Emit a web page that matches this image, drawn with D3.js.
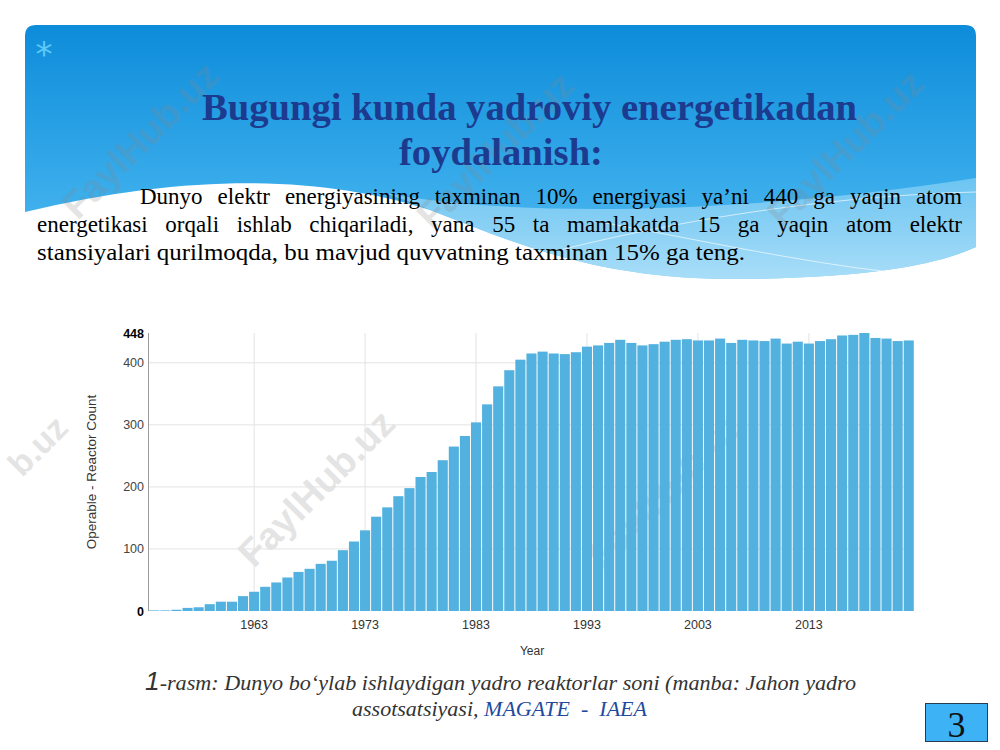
<!DOCTYPE html>
<html><head><meta charset="utf-8">
<script src="https://cdn.jsdelivr.net/npm/d3@7"></script>
<style>body{margin:0;background:#fff}svg{display:block}</style>
</head><body>
<svg id="c" width="1000" height="750"></svg>
<script>
// ---- data ----
const years = [1954,1955,1956,1957,1958,1959,1960,1961,1962,1963,1964,1965,1966,1967,1968,1969,1970,1971,1972,1973,1974,1975,1976,1977,1978,1979,1980,1981,1982,1983,1984,1985,1986,1987,1988,1989,1990,1991,1992,1993,1994,1995,1996,1997,1998,1999,2000,2001,2002,2003,2004,2005,2006,2007,2008,2009,2010,2011,2012,2013,2014,2015,2016,2017,2018,2019,2020,2021,2022];
const reactorCount = [1,1,2,5,6,11,15,15,24,31,39,46,54,63,68,76,81,98,112,130,152,167,185,198,216,224,243,265,282,304,333,362,388,405,415,418,415,414,417,426,428,432,437,432,428,430,434,437,438,436,436,439,432,437,436,435,439,431,434,431,435,438,444,445,448,440,439,435,436];
const xTickYears = [1963,1973,1983,1993,2003,2013];
const yTicks = [0,100,200,300,400];
const yMaxTick = 448;
const titleLines = ["Bugungi kunda yadroviy energetikadan","foydalanish:"];
const bodyLines = [
  "Dunyo elektr energiyasining taxminan 10% energiyasi ya’ni 440 ga yaqin atom",
  "energetikasi orqali ishlab chiqariladi, yana 55 ta mamlakatda 15 ga yaqin atom elektr",
  "stansiyalari qurilmoqda, bu mavjud quvvatning taxminan 15% ga teng."
];
const captionLine1 = "-rasm: Dunyo bo‘ylab ishlaydigan yadro reaktorlar soni (manba: Jahon yadro";
const captionLine2a = "assotsatsiyasi, ";
const captionLine2b = "MAGATE  -  IAEA";
const yLabel = "Operable - Reactor Count";
const xLabel = "Year";
const pageNo = "3";
const watermark = "FaylHub.uz";
const watermarkEdge = "b.uz";

const svg = d3.select("#c");
const defs = svg.append("defs");
const g1 = defs.append("linearGradient").attr("id","pg").attr("x1",0).attr("y1",0).attr("x2",0).attr("y2",1);
g1.append("stop").attr("offset","0%").attr("stop-color","#0d8cda");
g1.append("stop").attr("offset","60%").attr("stop-color","#36aaea");
g1.append("stop").attr("offset","100%").attr("stop-color","#55bdf0");
const g2 = defs.append("linearGradient").attr("id","bg2").attr("x1",0).attr("y1",0).attr("x2",0).attr("y2",1);
g2.append("stop").attr("offset","0%").attr("stop-color","#7fcdf4");
g2.append("stop").attr("offset","100%").attr("stop-color","#c4e8fb");

// slide panel
svg.append("path")
  .attr("d","M25,36 Q25,25 36,25 H965 Q976,25 976,36 V247 C940,264 870,278 740,279 C600,280 520,245 430,210 C330,178 200,170 25,212 Z")
  .attr("fill","url(#pg)");
svg.append("path")
  .attr("d","M380,192 C520,220 760,212 976,178 V247 C940,264 870,278 740,279 C600,280 520,245 430,210 C410,202 395,196 380,192 Z")
  .attr("fill","url(#bg2)").attr("opacity",0.75);
svg.append("path").attr("d","M560,250 C700,215 850,195 976,192").attr("fill","none").attr("stroke","#fff").attr("stroke-width",0.8).attr("opacity",0.8);
svg.append("path").attr("d","M600,222 C700,240 800,262 890,272").attr("fill","none").attr("stroke","#fff").attr("stroke-width",0.8).attr("opacity",0.8);
svg.append("text").attr("x",44).attr("y",66).attr("text-anchor","middle")
  .attr("font-family","DejaVu Sans").attr("font-size",34).attr("fill","#5ecaf8").text("*");

// watermarks
const wmPos = [[140,140],[495,150],[845,148],[316,488],[665,490]];
const wm = svg.append("g");
wm.selectAll("text").data(wmPos).join("text")
  .attr("transform",d=>`translate(${d[0]},${d[1]}) rotate(-45)`)
  .attr("text-anchor","middle").attr("dy","0.35em")
  .attr("font-family","Liberation Sans, Arial").attr("font-weight","bold").attr("font-size",38)
  .attr("fill","#888").attr("opacity",0.22).text(watermark);
wm.append("text").attr("transform","translate(22,478) rotate(-45)")
  .attr("font-family","Liberation Sans, Arial").attr("font-weight","bold").attr("font-size",34)
  .attr("fill","#888").attr("opacity",0.22).text(watermarkEdge);

// title
svg.append("text").attr("x",202).attr("y",120).attr("font-family","Liberation Serif").attr("font-weight","bold")
  .attr("font-size",37).attr("fill","#1c3a8e").attr("textLength",655).attr("lengthAdjust","spacingAndGlyphs").text(titleLines[0]);
svg.append("text").attr("x",399).attr("y",165).attr("font-family","Liberation Serif").attr("font-weight","bold")
  .attr("font-size",37).attr("fill","#1c3a8e").attr("textLength",204).attr("lengthAdjust","spacingAndGlyphs").text(titleLines[1]);

// body (justified via word-spacing)
const bodyPos = [[140,204,822,true],[37,232,925,true],[37,260,708,false]];
bodyLines.forEach((t,i)=>{
  const el = svg.append("text").attr("x",bodyPos[i][0]).attr("y",bodyPos[i][1])
    .attr("font-family","Liberation Serif").attr("font-size",23).attr("fill","#000").text(t);
  if (bodyPos[i][3]) {
    const natural = el.node().getComputedTextLength();
    const spaces = (t.match(/ /g)||[]).length;
    const extra = (bodyPos[i][2]-natural)/spaces;
    if (extra > 0) el.attr("word-spacing", extra);
    else el.attr("textLength",bodyPos[i][2]).attr("lengthAdjust","spacingAndGlyphs");
  } else {
    el.attr("textLength",bodyPos[i][2]).attr("lengthAdjust","spacingAndGlyphs");
  }
});

// ---- chart ----
const x = d3.scaleBand().domain(years).range([149,914]).paddingInner(0.09).paddingOuter(0.02);
const y = d3.scaleLinear().domain([0,yMaxTick]).range([611,333]);
const chart = svg.append("g");

chart.append("g").selectAll("line").data(yTicks.filter(d=>d>0)).join("line")
  .attr("x1",149).attr("x2",914).attr("y1",d=>y(d)).attr("y2",d=>y(d)).attr("stroke","#e3e3e3");
chart.append("g").selectAll("line").data(xTickYears).join("line")
  .attr("x1",d=>x(d)+x.bandwidth()/2).attr("x2",d=>x(d)+x.bandwidth()/2)
  .attr("y1",333).attr("y2",611).attr("stroke","#e3e3e3");

chart.append("g").selectAll("rect").data(years).join("rect")
  .attr("x",d=>x(d)).attr("width",x.bandwidth())
  .attr("y",(d,i)=>y(reactorCount[i])).attr("height",(d,i)=>y(0)-y(reactorCount[i]))
  .attr("fill","#52b1df");

chart.append("line").attr("x1",148.5).attr("x2",148.5).attr("y1",333).attr("y2",611).attr("stroke","#9a9a9a");

const yAxis = d3.axisLeft(y).tickValues(yTicks.concat([yMaxTick])).tickSize(0).tickPadding(4);
const ya = chart.append("g").attr("transform","translate(148,0)").call(yAxis);
ya.select(".domain").remove();
ya.selectAll("text").attr("font-family","Liberation Sans, Arial").attr("font-size",12.5)
  .attr("fill",d=>(d===0||d===yMaxTick)?"#000":"#444")
  .attr("font-weight",d=>(d===0||d===yMaxTick)?"bold":"normal");

const xAxis = d3.axisBottom(x).tickValues(xTickYears).tickSize(0).tickPadding(9);
const xa = chart.append("g").attr("transform","translate(0,611)").call(xAxis);
xa.select(".domain").remove();
xa.selectAll("text").attr("font-family","Liberation Sans, Arial").attr("font-size",12.5).attr("fill","#333");

chart.append("text").attr("x",532).attr("y",655).attr("text-anchor","middle")
  .attr("font-family","Liberation Sans, Arial").attr("font-size",12).attr("fill","#333").text(xLabel);
chart.append("text").attr("transform","translate(96,472) rotate(-90)").attr("text-anchor","middle")
  .attr("font-family","Liberation Sans, Arial").attr("font-size",13.5).attr("fill","#333").text(yLabel);

// caption
const cap = svg.append("text").attr("x",145).attr("y",690).attr("font-family","Liberation Serif").attr("font-size",21).attr("fill","#333")
  .attr("textLength",711).attr("lengthAdjust","spacingAndGlyphs");
cap.append("tspan").attr("font-family","Liberation Sans").attr("font-size",25).attr("font-style","italic").text("1");
cap.append("tspan").attr("font-style","italic").text(captionLine1);
const cap2 = svg.append("text").attr("x",352).attr("y",716).attr("font-family","Liberation Serif").attr("font-size",21).attr("font-style","italic")
  .attr("textLength",295).attr("lengthAdjust","spacingAndGlyphs");
cap2.append("tspan").attr("fill","#333").text(captionLine2a);
cap2.append("tspan").attr("fill","#1e4a9e").style("white-space","pre").text(captionLine2b);

// page number
svg.append("rect").attr("x",925.5).attr("y",703.5).attr("width",62).attr("height",38).attr("fill","#3db2f5").attr("stroke","#2a3a50");
svg.append("text").attr("x",956.5).attr("y",737).attr("text-anchor","middle").attr("font-family","Liberation Serif").attr("font-size",36).attr("fill","#111").text(pageNo);
</script>
</body></html>
